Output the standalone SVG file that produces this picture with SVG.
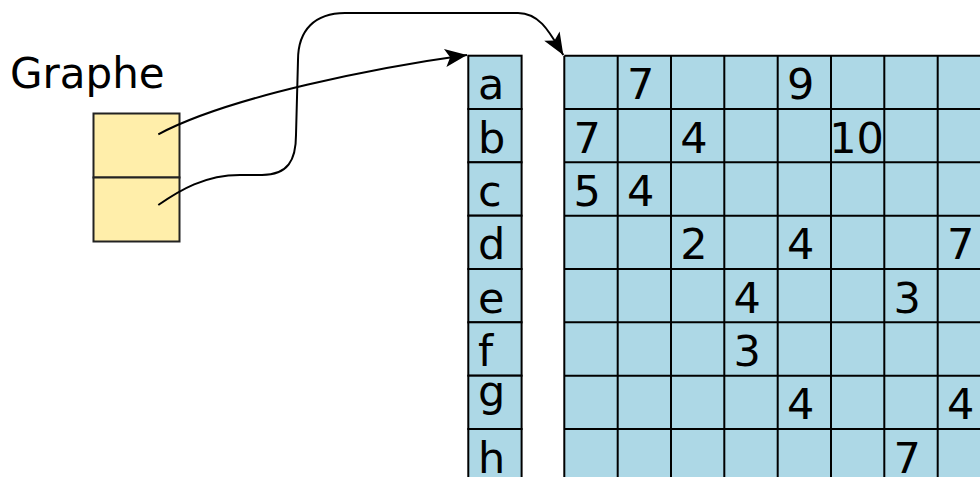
<svg xmlns="http://www.w3.org/2000/svg" width="980" height="477" viewBox="0 0 980 477">
<style>
text{font-family:"DejaVu Sans",sans-serif;fill:#000}
.t{font-size:43px}
.cell{fill:#add8e6;stroke:#000;stroke-width:2}
.g{fill:#ffeeaa;stroke:#222;stroke-width:2}
.ln{fill:none;stroke:#000;stroke-width:2}
</style>
<defs>
<marker id="ah" markerUnits="userSpaceOnUse" viewBox="-25 -12 30 24" refX="0" refY="0" markerWidth="30" markerHeight="24" orient="auto">
<path d="M0,0 L-22,-9 L-17,0 L-22,9 Z" fill="#000"/>
</marker>
</defs>
<rect width="980" height="477" fill="#fff"/>
<g id="graphe">
<text x="10" y="88" font-size="42">Graphe</text>
<rect class="g" x="93.5" y="113.5" width="86" height="64"/>
<rect class="g" x="93.5" y="177.5" width="86" height="64"/>
</g>
<g id="index">
<rect class="cell" x="468.3" y="55.7" width="53.3" height="53.33"/>
<rect class="cell" x="468.3" y="109" width="53.3" height="53.33"/>
<rect class="cell" x="468.3" y="162.3" width="53.3" height="53.33"/>
<rect class="cell" x="468.3" y="215.7" width="53.3" height="53.33"/>
<rect class="cell" x="468.3" y="269" width="53.3" height="53.33"/>
<rect class="cell" x="468.3" y="322.3" width="53.3" height="53.33"/>
<rect class="cell" x="468.3" y="375.7" width="53.3" height="53.33"/>
<rect class="cell" x="468.3" y="429" width="53.3" height="53.33"/>
<text class="t" x="478" y="99.2">a</text>
<text class="t" x="478" y="152.5">b</text>
<text class="t" x="478" y="205.8">c</text>
<text class="t" x="478" y="259.2">d</text>
<text class="t" x="478" y="312.5">e</text>
<text class="t" x="478" y="365.8">f</text>
<text class="t" x="478" y="406">g</text>
<text class="t" x="478" y="472.5">h</text>
</g>
<g id="matrix">
<rect x="564.3" y="55.7" width="440" height="440" fill="#add8e6"/>
<path class="ln" d="M564.3,55.7V482M617.7,55.7V482M671,55.7V482M724.3,55.7V482M777.7,55.7V482M831,55.7V482M884.3,55.7V482M937.7,55.7V482M564.3,55.7H990M564.3,109H990M564.3,162.3H990M564.3,215.7H990M564.3,269H990M564.3,322.3H990M564.3,375.7H990M564.3,429H990"/>
<text class="t" x="627" y="99.2">7</text>
<text class="t" x="787" y="99.2">9</text>
<text class="t" x="573.6" y="152.5">7</text>
<text class="t" x="680.3" y="152.5">4</text>
<text class="t" x="829.2" y="152.5">10</text>
<text class="t" x="573.6" y="205.8">5</text>
<text class="t" x="627" y="205.8">4</text>
<text class="t" x="680.3" y="259.2">2</text>
<text class="t" x="787" y="259.2">4</text>
<text class="t" x="947" y="259.2">7</text>
<text class="t" x="733.6" y="312.5">4</text>
<text class="t" x="893.6" y="312.5">3</text>
<text class="t" x="733.6" y="365.8">3</text>
<text class="t" x="787" y="418.5">4</text>
<text class="t" x="947" y="418.5">4</text>
<text class="t" x="893.6" y="472.5">7</text>
</g>
<g id="connectors">
<path class="ln" marker-end="url(#ah)" d="M158.3,134.3 C230,96 380,67 467,55"/>
<path class="ln" marker-end="url(#ah)" d="M158.3,205 C180,190 205,175 240,175 L262,175 C288,175 296,160 296,135 L298,60 C298,30 315,13 345,13 L518,13 C540,13 550,33 563.3,55"/>
</g>
</svg>
